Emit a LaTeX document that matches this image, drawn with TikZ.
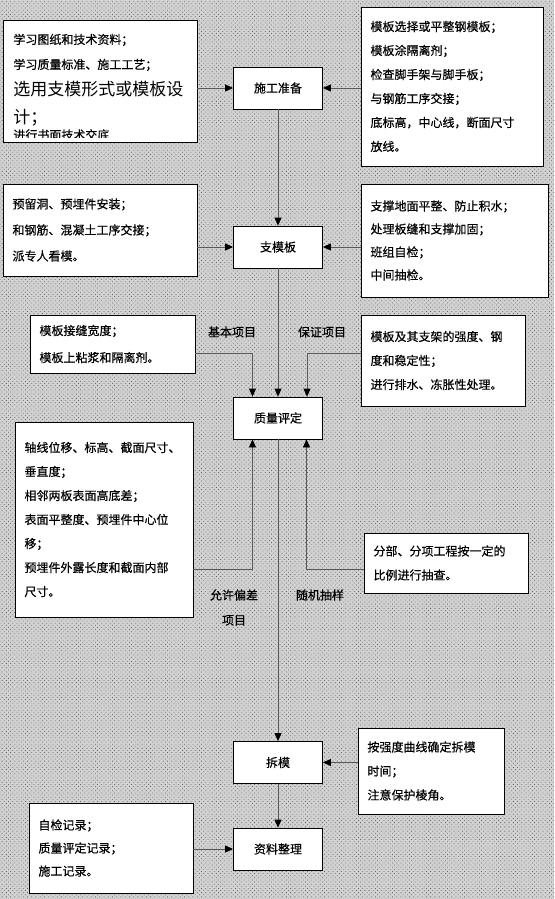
\documentclass[tikz,border=0pt]{standalone}
\usepackage{fontspec}
\newfontfamily\cjk[FakeBold=0.5]{Noto Sans CJK SC}
\newfontfamily\cjklight{Noto Sans CJK SC}
\usetikzlibrary{arrows.meta}
\usetikzlibrary{patterns.meta}

\begin{document}
\begin{tikzpicture}[x=1pt, y=-1pt, line width=0.8pt,
    stepbox/.style={draw=black, fill=white, minimum width=89pt, minimum height=42pt, inner sep=0pt, font=\cjk\fontsize{12}{14}\selectfont},
    notebox/.style={draw=black, fill=white, align=left, inner xsep=9.5pt, inner ysep=0pt, font=\cjk\fontsize{12}{24}\selectfont},
    flow/.style={draw=black!65, -{Triangle[length=8pt, width=7pt, color=black]}},
    tag/.style={font=\cjk\fontsize{12}{25}\selectfont, align=center, inner sep=0pt}]
    \colorlet{dotc}{black!60}
    \fill[black!18] (0,0) rectangle (554,899);
    \fill[pattern={Dots[distance=3pt, radius=0.55pt, angle=45]}, pattern color=dotc] (0,0) rectangle (554,899);
    \useasboundingbox (0,0) rectangle (554,899);

    \node[stepbox] (prep)  at (278,88)    {施工准备};
    \node[stepbox] (form)  at (278,247)   {支模板};
    \node[stepbox] (eval)  at (278,418)   {质量评定};
    \node[stepbox] (strip) at (278,762.5) {拆模};
    \node[stepbox] (docs)  at (278,849)   {资料整理};

    \node[notebox, minimum width=194pt, minimum height=122pt] (study) at (100,81) {};
    \begin{scope}
      \clip (3,20) rectangle (197,137);
      \node[anchor=base west, inner sep=0pt, font=\cjk\fontsize{12}{14}\selectfont] (studyA) at (13,44) {学习图纸和技术资料；};
      \node[anchor=base west, inner sep=0pt, font=\cjk\fontsize{12}{14}\selectfont] (studyB) at (13,69) {学习质量标准、施工工艺；};
      \node[anchor=base west, inner sep=0pt, font=\cjklight\fontsize{17}{20}\selectfont] (studyC) at (13,95) {选用支模形式或模板设};
      \node[anchor=base west, inner sep=0pt, font=\cjklight\fontsize{17}{20}\selectfont] (studyD) at (13,123) {计；};
      \node[anchor=base west, inner sep=0pt, font=\cjk\fontsize{12}{14}\selectfont] (studyE) at (13,139.5) {进行书面技术交底};
    \end{scope}
    \node[notebox, text width=163pt, minimum height=159pt] (prepnote) at (452,86.5)
      {模板选择或平整钢模板；\\模板涂隔离剂；\\检查脚手架与脚手板；\\与钢筋工序交接；\\底标高，中心线，断面尺寸\\放线。};
    \node[notebox, text width=175pt, minimum height=92pt, font=\cjk\fontsize{12}{26}\selectfont] (holes) at (100,230)
      {预留洞、预埋件安装；\\和钢筋、混凝土工序交接；\\派专人看模。};
    \node[notebox, text width=168pt, minimum height=113pt, font=\cjk\fontsize{12}{23}\selectfont] (support) at (454.5,240.5)
      {支撑地面平整、防止积水；\\处理板缝和支撑加固；\\班组自检；\\中间抽检。};
    \node[notebox, text width=146pt, minimum height=58pt, font=\cjk\fontsize{12}{27}\selectfont] (joints) at (112.5,344)
      {模板接缝宽度；\\模板上粘浆和隔离剂。};
    \node[notebox, text width=145pt, minimum height=91pt] (strength) at (443,360.5)
      {模板及其支架的强度、钢\\度和稳定性；\\进行排水、冻胀性处理。};
    \node[notebox, text width=159pt, minimum height=195pt] (tolerance) at (104,519.5)
      {轴线位移、标高、截面尺寸、\\垂直度；\\相邻两板表面高底差；\\表面平整度、预埋件中心位\\移；\\预埋件外露长度和截面内部\\尺寸。};
    \node[notebox, text width=145pt, minimum height=60pt] (sampling) at (446,563)
      {分部、分项工程按一定的\\比例进行抽查。};
    \node[notebox, text width=127pt, minimum height=86pt] (timing) at (431,771)
      {按强度曲线确定拆模\\时间；\\注意保护棱角。};
    \node[notebox, text width=145pt, minimum height=90pt, font=\cjk\fontsize{12}{23}\selectfont] (records) at (111,848)
      {自检记录；\\质量评定记录；\\施工记录。};

    \node[tag] (basic) at (232,332) {基本项目};
    \node[tag] (guard) at (322,332) {保证项目};
    \node[tag] (allow) at (234,607.5) {允许偏差\\项目};
    \node[tag] (random) at (320,595) {随机抽样};

    \draw[flow] (prep -| study.east) -- (prep.west);
    \draw[flow] (prep -| prepnote.west) -- (prep.east);
    \draw[flow] (prep.south) -- (form.north);
    \draw[flow] (form -| holes.east) -- (form.west);
    \draw[flow] (form -| support.west) -- (form.east);
    \draw[flow] (form.south) -- (eval.north);
    \draw[flow] ([yshift=-9pt]joints.east) -| ([xshift=-25.5pt]eval.north);
    \draw[flow] ([yshift=7.5pt]strength.west) -| ([xshift=29pt]eval.north);
    \draw[flow] ([yshift=-49.5pt]tolerance.east) -| ([xshift=-25.5pt]eval.south);
    \draw[flow] ([yshift=-6pt]sampling.west) -| ([xshift=28.5pt]eval.south);
    \draw[flow] (eval.south) -- (strip.north);
    \draw[flow] (strip -| timing.west) -- (strip.east);
    \draw[flow] (strip.south) -- (docs.north);
    \draw[flow] (docs -| records.east) -- (docs.west);
  \end{tikzpicture}
\end{document}
